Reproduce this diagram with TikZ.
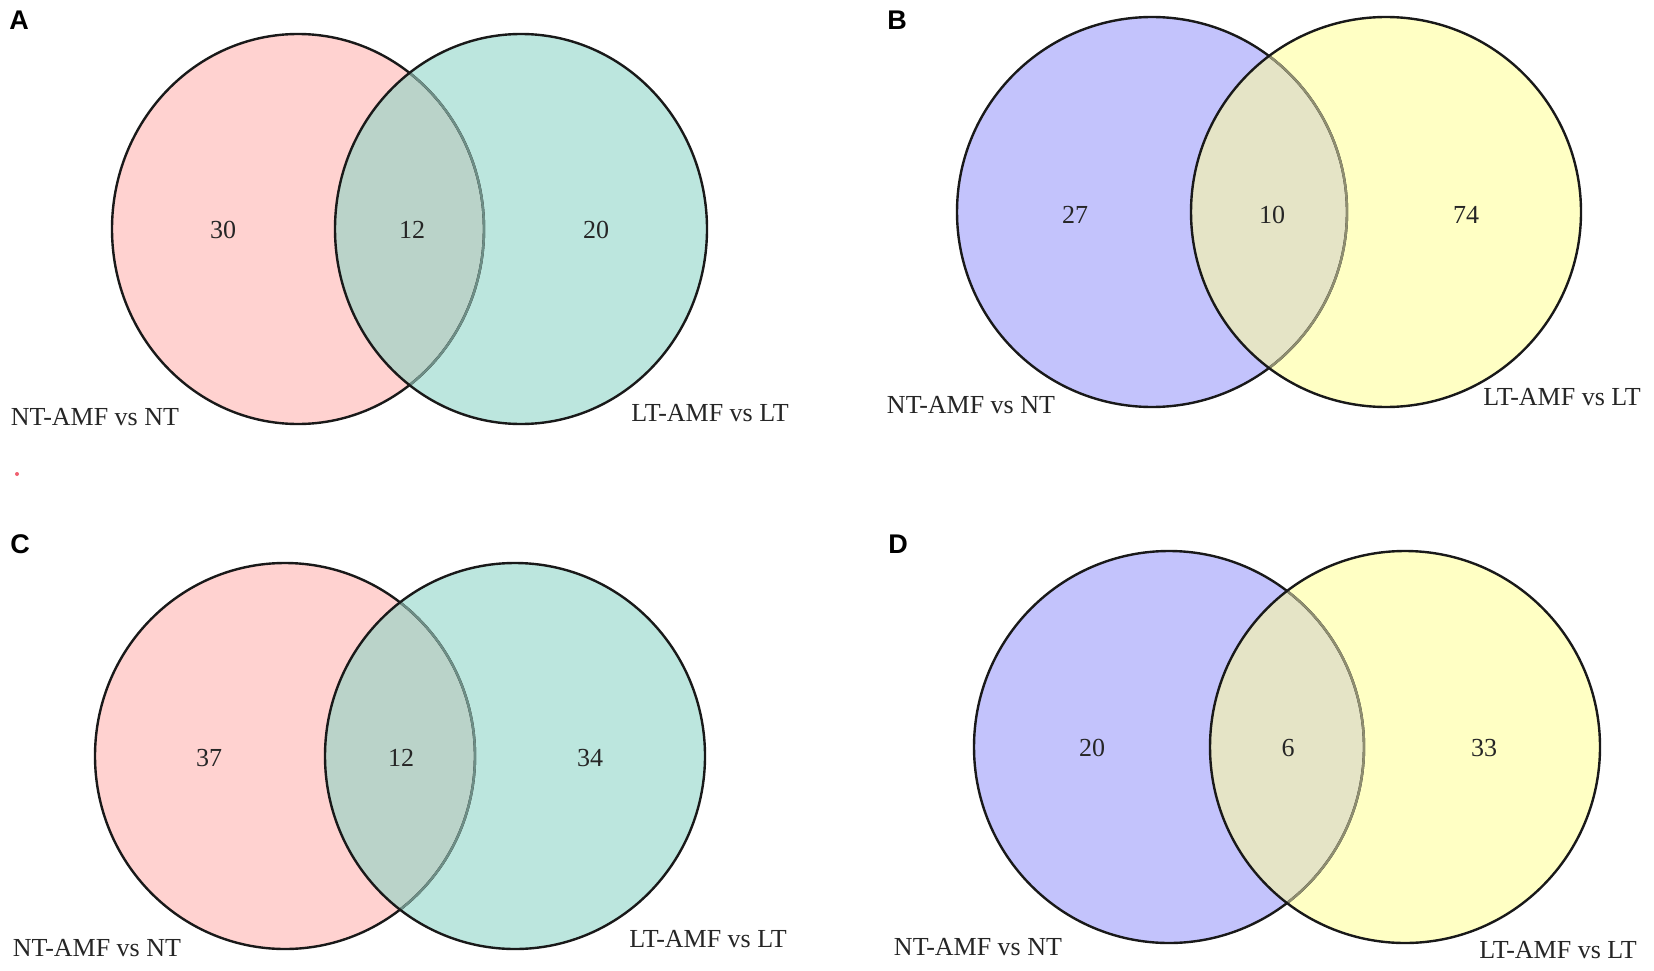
\documentclass[tikz,border=0pt]{standalone}
\usepackage{fontspec}
\setmainfont{Liberation Serif}
\newfontfamily\lettersans{Liberation Sans}
\definecolor{pinkf}{HTML}{FFD2D0}
\definecolor{tealf}{HTML}{BCE6DE}
\definecolor{ptov}{HTML}{BAD3C9}
\definecolor{ptarc}{HTML}{6D8E86}
\definecolor{lavf}{HTML}{C3C3FC}
\definecolor{yelf}{HTML}{FFFFC4}
\definecolor{lyov}{HTML}{E5E4C6}
\definecolor{lyarc}{HTML}{8F8E70}
\definecolor{dotred}{HTML}{F06070}
\tikzset{
  outline/.style={draw=black!90, line width=2.4pt},
  num/.style={font=\fontsize{26}{28}\selectfont, inner sep=0pt, text=black!85},
  setlab/.style={font=\fontsize{26}{28}\selectfont, inner sep=0pt, text=black!85},
  panellet/.style={font=\lettersans\bfseries\fontsize{27}{30}\selectfont, inner sep=0pt},
}
% #1 left cx, #2 right cx, #3 cy, #4 rx, #5 ry, #6 left fill, #7 right fill, #8 overlap fill, #9 inner arc colour
\newcommand{\myvenn}[9]{%
  \fill[#6] (#1,#3) ellipse [x radius=#4pt, y radius=#5pt];
  \fill[#7] (#2,#3) ellipse [x radius=#4pt, y radius=#5pt];
  \begin{scope}
    \clip (#1,#3) ellipse [x radius=#4pt, y radius=#5pt];
    \fill[#8] (#2,#3) ellipse [x radius=#4pt, y radius=#5pt];
  \end{scope}
  \draw[outline] (#1,#3) ellipse [x radius=#4pt, y radius=#5pt];
  \begin{scope}
    \clip (#2,#3) ellipse [x radius=#4pt, y radius=#5pt];
    \draw[outline, draw=#9] (#1,#3) ellipse [x radius=#4pt, y radius=#5pt];
  \end{scope}
  \draw[outline] (#2,#3) ellipse [x radius=#4pt, y radius=#5pt];
}
\begin{document}
\begin{tikzpicture}[x=1pt, y=-1pt]
\useasboundingbox[fill=white] (0,0) rectangle (1654,971);

% Panel A
\myvenn{298}{521}{229}{186}{195}{pinkf}{tealf}{ptov}{ptarc}
\node[panellet] (la) at (19,20) {A};
\node[num] (a1) at (223,230) {30};
\node[num] (a2) at (412,230) {12};
\node[num] (a3) at (596,230) {20};
\node[setlab] (aL) at (95,417) {NT-AMF vs NT};
\node[setlab] (aR) at (710,413) {LT-AMF vs LT};
\fill[dotred] (17,474) circle [radius=2pt];

% Panel B
\myvenn{1152}{1386}{212}{195}{195}{lavf}{yelf}{lyov}{lyarc}
\node[panellet] (lb) at (897,20) {B};
\node[num] (b1) at (1075,215) {27};
\node[num] (b2) at (1272,215) {10};
\node[num] (b3) at (1466,215) {74};
\node[setlab] (bL) at (971,405) {NT-AMF vs NT};
\node[setlab] (bR) at (1562,397) {LT-AMF vs LT};

% Panel C
\myvenn{285}{515}{756}{190}{193}{pinkf}{tealf}{ptov}{ptarc}
\node[panellet] (lc) at (20,544) {C};
\node[num] (c1) at (209,758) {37};
\node[num] (c2) at (401,758) {12};
\node[num] (c3) at (590,758) {34};
\node[setlab] (cL) at (97,948) {NT-AMF vs NT};
\node[setlab] (cR) at (708,939) {LT-AMF vs LT};

% Panel D
\myvenn{1169}{1405}{747}{195}{196}{lavf}{yelf}{lyov}{lyarc}
\node[panellet] (ld) at (898,544) {D};
\node[num] (d1) at (1092,748) {20};
\node[num] (d2) at (1288,748) {6};
\node[num] (d3) at (1484,748) {33};
\node[setlab] (dL) at (978,947) {NT-AMF vs NT};
\node[setlab] (dR) at (1558,950) {LT-AMF vs LT};
\end{tikzpicture}
\end{document}
